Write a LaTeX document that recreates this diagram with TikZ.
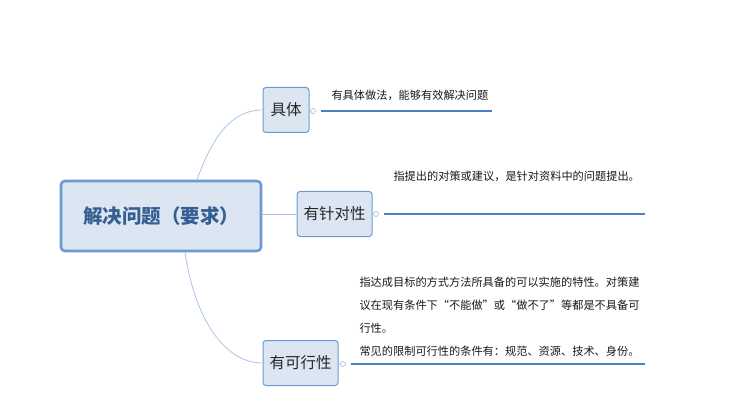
\documentclass[tikz,border=0pt]{standalone}
\usepackage{fontspec}
\setmainfont{Noto Sans CJK SC}
\definecolor{boxfill}{HTML}{DCE6F2}
\definecolor{boxline}{HTML}{6C9BD2}
\definecolor{rootText}{HTML}{365F91}
\definecolor{branch}{HTML}{A9C4E8}
\definecolor{underline}{HTML}{4A7FC6}
\tikzset{
  rootbox/.style={draw=boxline, line width=2.6pt, fill=boxfill, rounded corners=4pt,
    minimum width=200pt, minimum height=70pt, text=rootText,
    font=\fontsize{19.5}{22}\selectfont\bfseries},
  topicbox/.style={draw=boxline, line width=1pt, fill=boxfill, rounded corners=3pt,
    minimum height=45pt, inner xsep=5pt, text=black!85,
    font=\fontsize{15.5}{18}\selectfont},
  knob/.style={circle, draw=branch, line width=0.7pt, fill=white, inner sep=0pt, minimum size=5pt},
  note/.style={font=\fontsize{11.2}{23}\selectfont, text=black!90, anchor=base west, align=left}
}
\begin{document}
\begin{tikzpicture}[x=1pt, y=-1pt]
        \useasboundingbox (0,0) rectangle (744,414);

        % Root
        \node[rootbox] (root) at (161,216) {解决问题（要求）};

        % Topics
        \node[topicbox, minimum width=46pt] (concrete) at (286,110) {具体};
        \node[topicbox, minimum width=75pt] (targeted) at (334.5,214) {有针对性};
        \node[topicbox, minimum width=75pt] (feasible) at (300.5,363) {有可行性};

        % Branches from root
        \draw[branch, line width=0.8pt] (root.north) ++(36,0) coordinate (rtop)
              .. controls (208,150) and (225,110) .. (concrete.west);
        \draw[branch, line width=0.8pt] (root.east |- targeted.west) -- (targeted.west);
        \draw[branch, line width=0.8pt] (root.south) ++(24,0) coordinate (rbot)
              .. controls (195,320) and (225,363) .. (feasible.west);

        % Knobs and underlines
        \node[knob] (k1) at (313,111) {};
        \node[knob] (k2) at (376,214) {};
        \node[knob] (k3) at (343,364) {};
        \draw[branch, line width=0.7pt] (concrete.east |- k1) -- (k1);
        \draw[branch, line width=0.7pt] (targeted.east |- k2) -- (k2);
        \draw[branch, line width=0.7pt] (feasible.east |- k3) -- (k3);
        \coordinate (e1) at (492,111);
        \coordinate (e2) at (645,214);
        \coordinate (e3) at (645,364);
        \draw[underline, line width=2.4pt] ([xshift=5pt]k1.east) -- (e1);
        \draw[underline, line width=2.4pt] ([xshift=5pt]k2.east) -- (e2);
        \draw[underline, line width=2.4pt] ([xshift=5pt]k3.east) -- (e3);

        % Notes
        \node[note] (n1) at (328,100) {有具体做法，能够有效解决问题};
        \node[note] (n2) at (390,181) {指提出的对策或建议，是针对资料中的问题提出。};
        \node[note, anchor=north west] (n3) at (356,273)
             {指达成目标的方式方法所具备的可以实施的特性。对策建\\
              议在现有条件下“不能做”或“做不了”等都是不具备可\\
              行性。\\
              常见的限制可行性的条件有：规范、资源、技术、身份。};

    \end{tikzpicture}
\end{document}
